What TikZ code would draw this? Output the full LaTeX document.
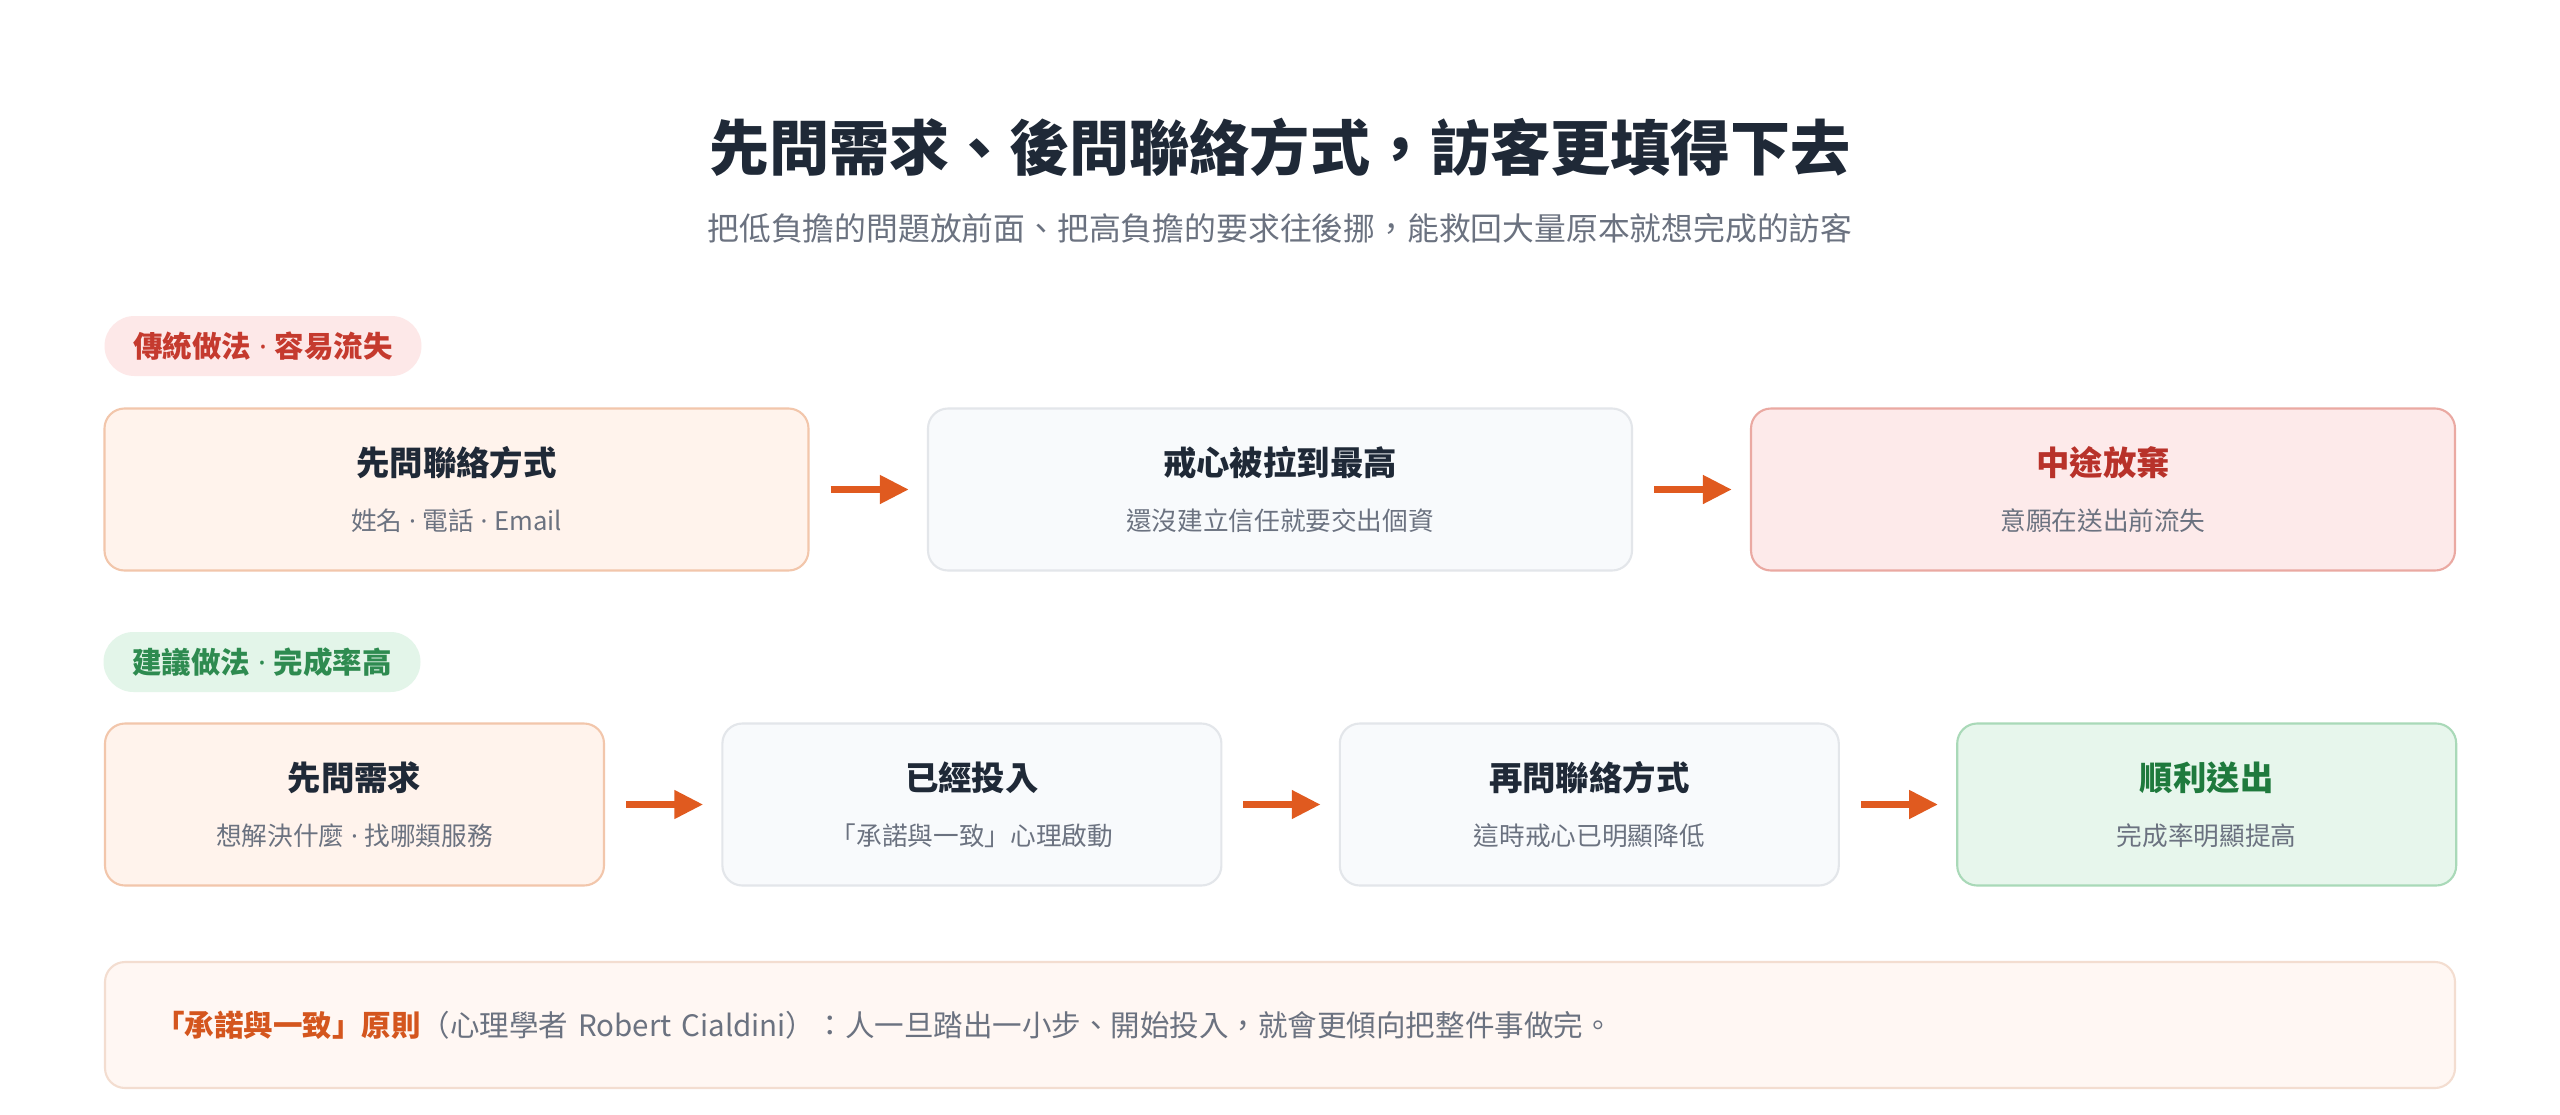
\documentclass[tikz,border=0pt]{standalone}
\usepackage{fontspec}
\newfontfamily\cjkfont[Script=CJK, Language=Chinese Traditional]{Noto Sans CJK TC}
\newfontfamily\dotfont{Noto Sans}
\usepackage{tikz}
\usetikzlibrary{arrows.meta}
\usepackage{xcolor}
\definecolor{inkdark}{RGB}{31,41,55}
\definecolor{inkgray}{RGB}{107,114,128}
\definecolor{warmtint}{RGB}{255,243,236}
\definecolor{warmedge}{RGB}{242,198,171}
\definecolor{planetint}{RGB}{248,250,252}
\definecolor{planeedge}{RGB}{227,230,234}
\definecolor{losstint}{RGB}{253,234,234}
\definecolor{lossedge}{RGB}{234,169,162}
\definecolor{lossred}{RGB}{184,50,42}
\definecolor{wintint}{RGB}{231,246,236}
\definecolor{winedge}{RGB}{169,217,184}
\definecolor{wingreen}{RGB}{31,122,61}
\definecolor{tagredtint}{RGB}{253,232,232}
\definecolor{tagred}{RGB}{197,58,46}
\definecolor{taggreentint}{RGB}{227,245,233}
\definecolor{taggreen}{RGB}{46,139,80}
\definecolor{arrowor}{RGB}{224,90,31}
\definecolor{notetint}{RGB}{255,247,243}
\definecolor{noteedge}{RGB}{243,221,208}
\definecolor{noteor}{RGB}{212,86,30}
\newcommand\stagehead[2][inkdark]{{\fontsize{9.5pt}{15.6pt}\selectfont\bfseries\color{#1}#2}}
\newcommand\middot{{\dotfont\ ·\ }}

\begin{document}
\begin{tikzpicture}[font=\cjkfont,
      tag/.style={rounded corners=0.3cm, minimum width=3.17cm, minimum height=0.6cm, inner sep=0pt,
                  font=\cjkfont\fontsize{8.4pt}{10pt}\selectfont\bfseries},
      stage/.style={draw, rounded corners=0.2cm, line width=0.6pt, align=center, inner sep=0pt,
                    minimum height=1.62cm, text=inkgray, font=\cjkfont\fontsize{7.3pt}{15.6pt}\selectfont},
      wide/.style={minimum width=7.04cm},
      narrow/.style={minimum width=4.99cm},
      warm/.style={fill=warmtint, draw=warmedge},
      plane/.style={fill=planetint, draw=planeedge},
      loss/.style={fill=losstint, draw=lossedge},
      win/.style={fill=wintint, draw=winedge},
      flow/.style={-{Triangle[length=0.29cm, width=0.27cm]}, line width=0.073cm, draw=arrowor,
                   shorten <=0.21cm, shorten >=0.18cm}]
    \useasboundingbox[fill=white] (0,0) rectangle (25.6,-11.14);

    % heading
    \node[text=inkdark, font=\cjkfont\fontsize{17.1pt}{20pt}\selectfont\bfseries] (title) at (12.8,-1.47)
        {先問需求、後問聯絡方式，訪客更填得下去};
    \node[text=inkgray, font=\cjkfont\fontsize{9.05pt}{11pt}\selectfont] (subtitle) at (12.8,-2.28)
        {把低負擔的問題放前面、把高負擔的要求往後挪，能救回大量原本就想完成的訪客};

    % traditional flow
    \node[tag, fill=tagredtint, text=tagred] (oldtag) at (2.63,-3.46) {傳統做法\middot 容易流失};
    \node[stage, wide, warm]  (oldask)  at (4.565,-4.895) {\stagehead{先問聯絡方式}\\姓名\middot 電話\middot Email};
    \node[stage, wide, plane] (guard)   at (12.80,-4.895) {\stagehead{戒心被拉到最高}\\還沒建立信任就要交出個資};
    \node[stage, wide, loss]  (quit)    at (21.03,-4.895) {\stagehead[lossred]{中途放棄}\\意願在送出前流失};
    \draw[flow] (oldask) -- (guard);
    \draw[flow] (guard) -- (quit);

    % suggested flow
    \node[tag, fill=taggreentint, text=taggreen] (newtag) at (2.62,-6.62) {建議做法\middot 完成率高};
    \node[stage, narrow, warm]  (needs)   at (3.545,-8.045) {\stagehead{先問需求}\\想解決什麼\middot 找哪類服務};
    \node[stage, narrow, plane] (invest)  at (9.719,-8.045) {\stagehead{已經投入}\\「承諾與一致」心理啟動};
    \node[stage, narrow, plane] (contact) at (15.893,-8.045) {\stagehead{再問聯絡方式}\\這時戒心已明顯降低};
    \node[stage, narrow, win]   (sent)    at (22.067,-8.045) {\stagehead[wingreen]{順利送出}\\完成率明顯提高};
    \draw[flow] (needs) -- (invest);
    \draw[flow] (invest) -- (contact);
    \draw[flow] (contact) -- (sent);

    % principle note
    \node[draw=noteedge, fill=notetint, rounded corners=0.2cm, line width=0.6pt,
          minimum width=23.5cm, minimum height=1.26cm, text width=22.5cm, inner xsep=0.5cm,
          align=left, text=inkgray, font=\cjkfont\fontsize{8.4pt}{10pt}\selectfont] (note) at (12.8,-10.25)
        {{\bfseries\color{noteor}「承諾與一致」原則}（心理學者 Robert Cialdini）：人一旦踏出一小步、開始投入，就會更傾向把整件事做完。};
\end{tikzpicture}
\end{document}
